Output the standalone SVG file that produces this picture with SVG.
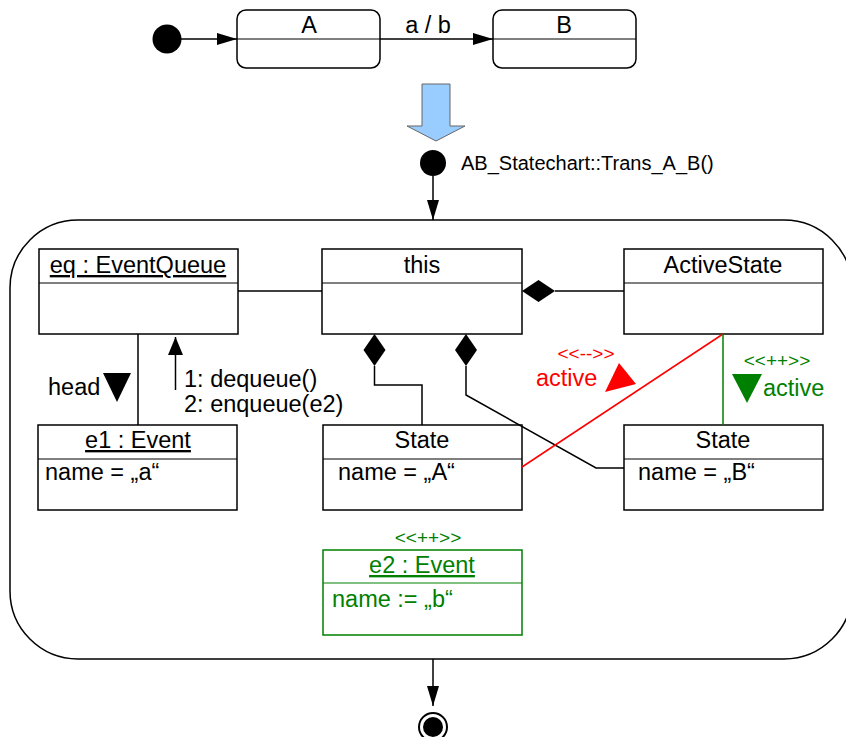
<svg xmlns="http://www.w3.org/2000/svg" width="846" height="737" viewBox="0 0 846 737">
  <defs>
    <marker id="arrow" viewBox="0 0 20 12" refX="20" refY="6" markerWidth="20" markerHeight="12" markerUnits="userSpaceOnUse" orient="auto">
      <path d="M0,0 L20,6 L0,12 Z" fill="#000"/>
    </marker>
  </defs>
  <style>
    text { font-family: "Liberation Sans", Arial, sans-serif; font-size: 23.5px; fill: #000; }
    .mid { text-anchor: middle; }
    .ul { text-decoration: underline; }
    .box { fill: #fff; stroke: #000; stroke-width: 1.5; }
    .div { stroke: #000; stroke-width: 1; }
    .line { fill: none; stroke: #000; stroke-width: 1.5; }
    .green { fill: #008000; }
    .red { fill: #ff0000; }
    .small { font-size: 19px; }
    .gbox { fill: #fff; stroke: #008000; stroke-width: 1.5; }
  </style>

  <!-- original statechart with states A and B -->
  <g id="top-initial">
    <circle cx="167" cy="39" r="14.5" fill="#000"/>
  </g>
  <g id="state-A">
    <rect x="237" y="10" width="143" height="58" rx="9" class="box"/>
    <line x1="237" y1="39" x2="380" y2="39" class="div"/>
    <text x="309" y="33" class="mid">A</text>
  </g>
  <g id="state-B">
    <rect x="493" y="10" width="143" height="58" rx="9" class="box"/>
    <line x1="493" y1="39" x2="636" y2="39" class="div"/>
    <text x="564" y="33" class="mid">B</text>
  </g>

  <!-- transformation arrow -->
  <g id="transform-arrow">
    <path d="M422,84 L450,84 L450,126 L465,126 L436,141 L407,126 L422,126 Z" fill="#99ccff" stroke="#666" stroke-width="1"/>
  </g>

  <!-- transition method -->
  <g id="method-initial">
    <circle cx="433" cy="163" r="13" fill="#000"/>
    <text x="461" y="170" style="font-size:20px">AB_Statechart::Trans_A_B()</text>
  </g>

  <g id="frame">
    <rect x="10" y="220" width="842" height="439" rx="68" fill="none" stroke="#000" stroke-width="1.5"/>
  </g>

  <g id="final">
    <circle cx="433" cy="727" r="14" fill="#fff" stroke="#000" stroke-width="2"/>
    <circle cx="433" cy="727" r="10" fill="#000"/>
  </g>

  <!-- object nodes -->
  <g id="eq">
    <rect x="39" y="249" width="199" height="85" class="box"/>
    <line x1="39" y1="283" x2="238" y2="283" class="div"/>
    <text x="138" y="273" class="mid ul">eq : EventQueue</text>
  </g>
  <g id="this">
    <rect x="322" y="249" width="200" height="85" class="box"/>
    <line x1="322" y1="283" x2="522" y2="283" class="div"/>
    <text x="422" y="273" class="mid">this</text>
  </g>
  <g id="active-state">
    <rect x="624" y="249" width="199" height="85" class="box"/>
    <line x1="624" y1="283" x2="823" y2="283" class="div"/>
    <text x="723" y="273" class="mid">ActiveState</text>
  </g>
  <g id="e1">
    <rect x="38" y="425" width="199" height="85" class="box"/>
    <line x1="38" y1="459" x2="237" y2="459" class="div"/>
    <text x="138" y="448" class="mid ul">e1 : Event</text>
    <text x="45" y="480">name = „a“</text>
  </g>
  <g id="state-a-obj">
    <rect x="323" y="425" width="199" height="85" class="box"/>
    <line x1="323" y1="459" x2="522" y2="459" class="div"/>
    <text x="422" y="448" class="mid">State</text>
    <text x="338" y="480">name = „A“</text>
  </g>
  <g id="state-b-obj">
    <rect x="624" y="425" width="199" height="85" class="box"/>
    <line x1="624" y1="459" x2="823" y2="459" class="div"/>
    <text x="723" y="448" class="mid">State</text>
    <text x="638" y="480">name = „B“</text>
  </g>
  <g id="e2">
    <text x="428" y="544" class="mid small green">&lt;&lt;++&gt;&gt;</text>
    <rect x="323" y="550" width="199" height="85" class="gbox"/>
    <line x1="323" y1="583" x2="522" y2="583" stroke="#008000" stroke-width="1"/>
    <text x="422" y="573" class="mid ul green">e2 : Event</text>
    <text x="332" y="607" class="green">name := „b“</text>
  </g>

  <!-- connectors -->
  <g id="connectors">
    <line x1="181" y1="39" x2="237" y2="39" class="line" marker-end="url(#arrow)"/>
    <line x1="380" y1="39" x2="493" y2="39" class="line" marker-end="url(#arrow)"/>
    <text x="428" y="33" class="mid">a / b</text>

    <line x1="433" y1="176" x2="433" y2="220" class="line" marker-end="url(#arrow)"/>
    <line x1="433" y1="659" x2="433" y2="706" class="line" marker-end="url(#arrow)"/>

    <!-- eq to this -->
    <line x1="238" y1="291" x2="322" y2="291" class="line"/>
    <!-- composition: this owns ActiveState -->
    <line x1="555" y1="291" x2="624" y2="291" class="line"/>
    <path d="M522,291 L538.5,280 L555,291 L538.5,302 Z" fill="#000"/>
    <!-- composition: this owns State A -->
    <path d="M374.5,334 L385.5,350 L374.5,366 L363.5,350 Z" fill="#000"/>
    <polyline points="374.5,366 374.5,385 422,385 422,425" class="line"/>
    <!-- composition: this owns State B -->
    <path d="M466,334 L477,350 L466,366 L455,350 Z" fill="#000"/>
    <polyline points="466,366 466,395 596,468 624,468" class="line"/>

    <!-- eq head link to e1 -->
    <line x1="138" y1="334" x2="138" y2="425" class="line"/>
    <text x="48" y="395">head</text>
    <path d="M103,373 L131,373 L117,402 Z" fill="#000"/>

    <!-- message arrow -->
    <line x1="175.5" y1="390" x2="175.5" y2="337" class="line"/>
    <path d="M175.5,337 L183,355 L168,355 Z" fill="#000"/>
    <text x="184" y="387">1: dequeue()</text>
    <text x="184" y="412">2: enqueue(e2)</text>

    <!-- removed link -->
    <line x1="723" y1="334" x2="522" y2="467" stroke="#ff0000" stroke-width="1.5"/>
    <text x="586" y="360" class="mid small red">&lt;&lt;--&gt;&gt;</text>
    <text x="536" y="386" class="red">active</text>
    <path d="M605,392 L619,363 L636,384 Z" fill="#ff0000"/>

    <!-- created link -->
    <line x1="723" y1="334" x2="723" y2="425" stroke="#008000" stroke-width="1.5"/>
    <text x="777" y="367" class="mid small green">&lt;&lt;++&gt;&gt;</text>
    <path d="M732,374 L762,374 L747,403 Z" fill="#008000"/>
    <text x="763" y="396" class="green">active</text>
  </g>
</svg>
